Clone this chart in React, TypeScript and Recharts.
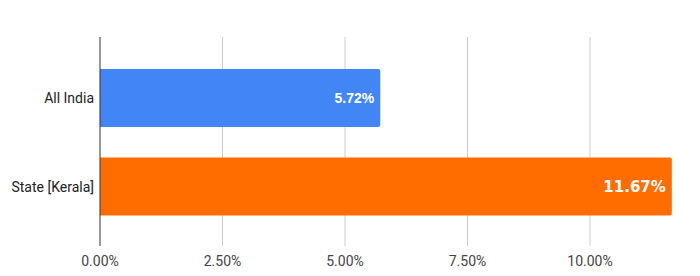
import { Bar, BarChart, CartesianGrid, Cell, LabelList, XAxis, YAxis } from "recharts";

const REGIONS = ["All India", "State [Kerala]"];
const RATES = [5.72, 11.67];
const BAR_COLORS = ["#4285f4", "#ff6d01"];
const X_TICKS = [0, 2.5, 5, 7.5, 10];
const X_MAX = 12;

const data = REGIONS.map((region, i) => ({ region, rate: RATES[i] }));

const LABEL_FONTS = [
  { family: "'Liberation Sans', Arial, sans-serif", size: 14 },
  { family: "'DejaVu Sans', Verdana, sans-serif", size: 15 },
];

function BarValue(props: any) {
  const { x, y, width, height, value, index } = props;
  const font = LABEL_FONTS[index] ?? LABEL_FONTS[0];
  return (
    <text
      x={x + width - 6}
      y={y + height / 2}
      textAnchor="end"
      dominantBaseline="central"
      fill="#ffffff"
      fontWeight="bold"
      fontFamily={font.family}
      fontSize={font.size}
    >
      {value.toFixed(2)}%
    </text>
  );
}

// gridlines only at the tick values, not at the right edge of the plot
const gridAtTicks = ({ offset }: any) =>
  X_TICKS.slice(1).map((t) => offset.left + (offset.width * t) / X_MAX);

export default function App() {
  return (
    <div style={{ position: "absolute", left: 0, top: 0, background: "#fff" }}>
      <BarChart
        width={700}
        height={276}
        data={data}
        layout="vertical"
        margin={{ top: 37, right: 12, left: 0, bottom: 0 }}
        style={{ fontFamily: "Roboto, sans-serif" }}
      >
        <CartesianGrid stroke="#cccccc" horizontal={false} verticalCoordinatesGenerator={gridAtTicks} />
        <XAxis
          type="number"
          domain={[0, X_MAX]}
          ticks={X_TICKS}
          tickFormatter={(v: number) => `${v.toFixed(2)}%`}
          axisLine={false}
          tickLine={false}
          tickSize={6}
          tickMargin={4}
          height={30}
          tick={{ fill: "#444444", fontSize: 14 }}
        />
        <YAxis
          type="category"
          dataKey="region"
          width={100}
          axisLine={{ stroke: "#333333" }}
          tickLine={false}
          tickSize={6}
          tickMargin={0}
          padding={{ top: 17, bottom: 15 }}
          tick={{ fill: "#222222", fontSize: 14 }}
        />
        <Bar dataKey="rate" barSize={58} radius={[0, 2, 2, 0]} isAnimationActive={false}>
          {data.map((d, i) => (
            <Cell key={d.region} fill={BAR_COLORS[i]} />
          ))}
          <LabelList dataKey="rate" content={<BarValue />} />
        </Bar>
      </BarChart>
    </div>
  );
}
